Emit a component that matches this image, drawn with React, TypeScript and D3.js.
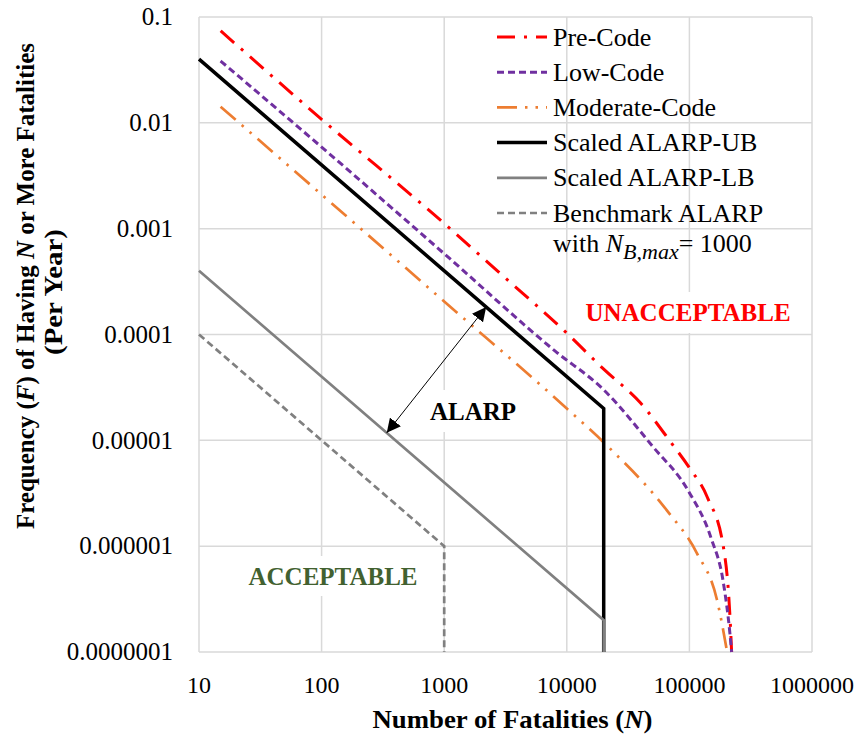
import React from "react";
import * as d3 from "d3";

// F-N curves (N = fatalities, F = frequency per year)
const preCodeN = [15, 100, 1000, 3000, 10000, 20000, 40000, 70000, 100000, 140000, 190000, 215000, 221000];
const preCodeF = [0.074, 0.0108, 0.00112, 3.6e-4, 1.03e-4, 4.7e-5, 2.25e-5, 9.7e-6, 5.5e-6, 2.9e-6, 9.6e-7, 2.0e-7, 1e-7];

const lowCodeN = [15, 100, 1000, 8000, 20000, 50000, 100000, 150000, 190000, 214000, 221000];
const lowCodeF = [0.0384, 0.0059, 5.8e-4, 7.0e-5, 3.0e-5, 8.8e-6, 3.2e-6, 1.2e-6, 4.4e-7, 1.5e-7, 1e-7];

const modCodeN = [15, 100, 1000, 10000, 22000, 65000, 115000, 168000, 203000];
const modCodeF = [0.0142, 0.0021, 2.05e-4, 2.0e-5, 8.6e-6, 2.2e-6, 8.6e-7, 3.1e-7, 1e-7];

const ubN = [10, 20000, 20000];
const ubF = [0.04, 2e-5, 1e-7];

const lbN = [10, 20000, 20000];
const lbF = [4e-4, 2e-7, 1e-7];

const benchN = [10, 1000, 1000];
const benchF = [1e-4, 1e-6, 1e-7];

const xTicks = [10, 100, 1000, 10000, 100000, 1000000];
const xTickLabels = ["10", "100", "1000", "10000", "100000", "1000000"];
const yTicks = [0.1, 0.01, 0.001, 0.0001, 0.00001, 0.000001, 0.0000001];
const yTickLabels = ["0.1", "0.01", "0.001", "0.0001", "0.00001", "0.000001", "0.0000001"];

// arrow between the two ALARP bounds, in data units
const arrowN = [340, 2200];
const arrowF = [0.004 / 340, 0.4 / 2200];

const zip = (a: number[], b: number[]) => a.map((v, i) => [v, b[i]] as [number, number]);

const series = [
  { name: "Pre-Code", data: zip(preCodeN, preCodeF), color: "#ff0000", width: 3, dash: "18 9 3 9", smooth: true },
  { name: "Low-Code", data: zip(lowCodeN, lowCodeF), color: "#7030a0", width: 3, dash: "7 4", smooth: true },
  { name: "Moderate-Code", data: zip(modCodeN, modCodeF), color: "#ed7d31", width: 2.7, dash: "20 8 2.5 8 2.5 8", smooth: true },
  { name: "Scaled ALARP-UB", data: zip(ubN, ubF), color: "#000000", width: 3.5, dash: null, smooth: false },
  { name: "Scaled ALARP-LB", data: zip(lbN, lbF), color: "#808080", width: 2.7, dash: null, smooth: false },
  { name: "Benchmark ALARP", data: zip(benchN, benchF), color: "#808080", width: 2.7, dash: "7 4", smooth: false },
];

export default function App() {
  const width = 861;
  const height = 736;
  const left = 199, right = 812, top = 17, bottom = 652;

  const x = d3.scaleLog().domain([10, 1e6]).range([left, right]);
  const y = d3.scaleLog().domain([1e-7, 0.1]).range([bottom, top]);

  const serif = "'Liberation Serif', 'Times New Roman', serif";
  const grid = "#d9d9d9";

  const smoothLine = d3.line<[number, number]>().x(d => x(d[0])).y(d => y(d[1])).curve(d3.curveMonotoneX);
  const straightLine = d3.line<[number, number]>().x(d => x(d[0])).y(d => y(d[1]));

  const legendX = 497;
  const legendY = (i: number) => 37 + i * 35.2;

  const ax1 = x(arrowN[0]), ay1 = y(arrowF[0]);
  const ax2 = x(arrowN[1]), ay2 = y(arrowF[1]);

  return (
    <svg width={width} height={height} style={{ position: "absolute", left: 0, top: 0, display: "block", background: "#fff" }} fontFamily={serif}>
      <defs>
        <marker id="ah" viewBox="0 0 10 10" refX="10" refY="5" markerWidth="14" markerHeight="14" markerUnits="userSpaceOnUse" orient="auto-start-reverse">
          <path d="M0,0 L10,5 L0,10 z" fill="#000" />
        </marker>
      </defs>

      {/* gridlines */}
      <g stroke={grid} strokeWidth={1.5}>
        {xTicks.map(t => <line key={"gx" + t} x1={x(t)} x2={x(t)} y1={top} y2={bottom} />)}
        {yTicks.map(t => <line key={"gy" + t} x1={left} x2={right} y1={y(t)} y2={y(t)} />)}
      </g>

      {/* tick labels */}
      <g fill="#000">
        {xTicks.map((t, i) => (
          <text key={"xl" + t} x={x(t)} y={693} textAnchor="middle" fontSize={24}>{xTickLabels[i]}</text>
        ))}
        {yTicks.map((t, i) => (
          <text key={"yl" + t} x={173} y={y(t)} dy="0.33em" textAnchor="end" fontSize={25}>{yTickLabels[i]}</text>
        ))}
      </g>

      {/* region labels with white boxes */}
      <rect x={420} y={390} width={110} height={42} fill="#fff" />
      <rect x={580} y={292} width={216} height={41} fill="#fff" />
      <rect x={242} y={556} width={182} height={40} fill="#fff" />

      {/* series */}
      <g fill="none">
        {series.map(s => (
          <path key={s.name} d={(s.smooth ? smoothLine : straightLine)(s.data) || ""}
            stroke={s.color} strokeWidth={s.width} strokeDasharray={s.dash || undefined} strokeLinejoin="miter" />
        ))}
      </g>

      {/* ALARP arrow */}
      <line x1={ax1} y1={ay1} x2={ax2} y2={ay2} stroke="#000" strokeWidth={1} markerStart="url(#ah)" markerEnd="url(#ah)" />

      <text x={473} y={419.5} textAnchor="middle" fontSize={25} fontWeight="bold" fill="#000">ALARP</text>
      <text x={688} y={320.5} textAnchor="middle" fontSize={25} fontWeight="bold" fill="#ff0000">UNACCEPTABLE</text>
      <text x={333} y={584.5} textAnchor="middle" fontSize={25} fontWeight="bold" fill="#426130">ACCEPTABLE</text>

      {/* legend */}
      <g fontSize={26} fill="#000">
        {series.map((s, i) => (
          <g key={"lg" + s.name}>
            <line x1={legendX} x2={legendX + 50} y1={legendY(i)} y2={legendY(i)} stroke={s.color}
              strokeWidth={s.width} strokeDasharray={s.dash || undefined} />
            <text x={legendX + 56} y={legendY(i)} dy="0.33em">{s.name}</text>
          </g>
        ))}
        <text x={legendX + 56} y={legendY(5) + 30} dy="0.33em">
          with <tspan fontStyle="italic">N</tspan>
          <tspan fontStyle="italic" fontSize={22} dy={7}>B,max</tspan>
          <tspan dy={-7}>= 1000</tspan>
        </text>
      </g>

      {/* axis titles */}
      <text x={(left + right) / 2 + 7} y={728} textAnchor="middle" fontSize={25} fontWeight="bold" textLength={280} lengthAdjust="spacingAndGlyphs">
        Number of Fatalities (<tspan fontStyle="italic">N</tspan>)
      </text>
      <g transform="translate(34,286) rotate(-90)" fontSize={25} fontWeight="bold">
        <text x={0} y={0} textAnchor="middle" textLength={486} lengthAdjust="spacingAndGlyphs">
          Frequency (<tspan fontStyle="italic">F</tspan>) of Having <tspan fontStyle="italic">N</tspan> or More Fatalities
        </text>
        <text x={-6} y={28} textAnchor="middle" textLength={126} lengthAdjust="spacingAndGlyphs">(Per Year)</text>
      </g>
    </svg>
  );
}
